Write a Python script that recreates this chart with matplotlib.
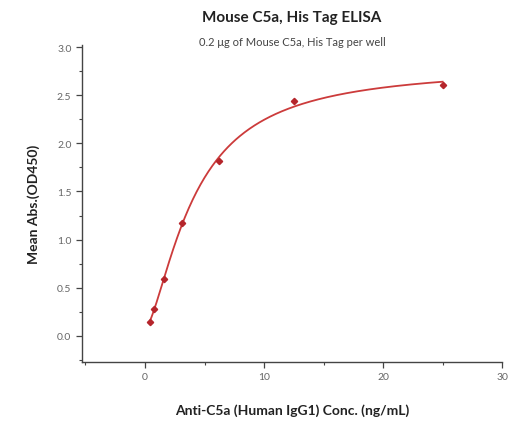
import matplotlib
matplotlib.use('Agg')
import matplotlib.pyplot as plt
from matplotlib.ticker import MultipleLocator
import numpy as np

# measured points
conc = [0.39, 0.78, 1.56, 3.125, 6.25, 12.5, 25.0]
od450 = [0.14, 0.28, 0.59, 1.17, 1.82, 2.44, 2.61]

x_ticks = [0, 10, 20, 30]
y_ticks = [0.0, 0.5, 1.0, 1.5, 2.0, 2.5, 3.0]

plt.rcParams['font.family'] = ['Lato', 'DejaVu Sans']

# 4PL fit: grid over ec50 / hill, linear solve for bottom / top
x = np.array(conc)
y = np.array(od450)
best = None
for c in np.linspace(1, 12, 221):
    for b in np.linspace(0.5, 3, 126):
        g = 1.0 / (1.0 + (x / c) ** b)
        M = np.column_stack([g, 1 - g])
        coef, res, _, _ = np.linalg.lstsq(M, y, rcond=None)
        err = np.sum((M @ coef - y) ** 2)
        if best is None or err < best[0]:
            best = (err, c, b, coef)
_, c, b, (bottom, top) = best
xs = np.linspace(conc[0], conc[-1], 300)
gs = 1.0 / (1.0 + (xs / c) ** b)
ys = bottom * gs + top * (1 - gs)

fig = plt.figure(figsize=(5.15, 4.31), dpi=100)
fig.patch.set_facecolor('white')
ax = fig.add_axes([0.159, 0.158, 0.816, 0.735])

ax.plot(xs, ys, color='#cc3b3b', linewidth=1.3, zorder=2)
ax.plot(conc, od450, linestyle='none', marker='D', markersize=3.2,
        color='#b5252b', zorder=3)

ax.set_xlim(-5.3, 30)
ax.set_ylim(-0.27, 3.02)
ax.set_xticks(x_ticks)
ax.set_yticks(y_ticks)
ax.set_yticklabels(['%.1f' % v for v in y_ticks])
ax.xaxis.set_minor_locator(MultipleLocator(5))
ax.yaxis.set_minor_locator(MultipleLocator(0.25))

for s in ['top', 'right']:
    ax.spines[s].set_visible(False)
for s in ['left', 'bottom']:
    ax.spines[s].set_color('#444444')
    ax.spines[s].set_linewidth(1.0)

ax.tick_params(which='major', direction='out', length=4, width=0.9,
               color='#444444', labelsize=7.5, labelcolor='#666666')
ax.tick_params(which='minor', direction='out', length=2.5, width=0.8,
               color='#444444')

ax.set_xlabel('Anti-C5a (Human IgG1) Conc. (ng/mL)', fontsize=10,
              fontweight='bold', color='#222222', labelpad=16)
ax.set_ylabel('Mean Abs.(OD450)', fontsize=10, fontweight='bold',
              color='#222222', labelpad=12)

fig.text(0.567, 0.958, 'Mouse C5a, His Tag ELISA', ha='center', va='center',
         fontsize=11, fontweight='bold', color='#222222')
fig.text(0.567, 0.902, '0.2 \u03bcg of Mouse C5a, His Tag per well',
         ha='center', va='center', fontsize=8, color='#444444')

fig.savefig('out.png', dpi=100, facecolor='white')
